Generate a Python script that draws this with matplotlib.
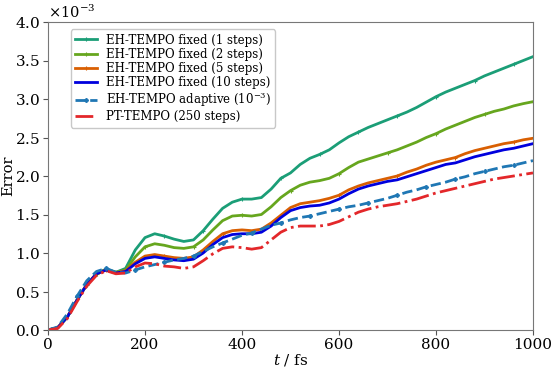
import numpy as np
import matplotlib
matplotlib.use("Agg")
import matplotlib.pyplot as plt
from matplotlib.ticker import ScalarFormatter

plt.rcParams['font.family'] = ['DejaVu Serif']
plt.rcParams['mathtext.fontset'] = 'dejavuserif'

t = list(range(0, 1001, 20))

# values in units of 1e-3
fixed1 = [0, 0.03, 0.17, 0.39, 0.59, 0.73, 0.79, 0.75, 0.80, 1.04, 1.20, 1.25, 1.22, 1.18, 1.15, 1.17,
          1.29, 1.44, 1.58, 1.66, 1.70, 1.70, 1.72, 1.83, 1.97, 2.04, 2.15, 2.23, 2.28, 2.34, 2.43,
          2.51, 2.57, 2.63, 2.68, 2.73, 2.78, 2.83, 2.89, 2.96, 3.03, 3.09, 3.14, 3.19, 3.24, 3.30,
          3.35, 3.40, 3.45, 3.50, 3.55]
fixed2 = [0, 0.03, 0.17, 0.39, 0.59, 0.73, 0.79, 0.75, 0.78, 0.95, 1.08, 1.12, 1.10, 1.07, 1.06, 1.08,
          1.17, 1.30, 1.42, 1.48, 1.49, 1.48, 1.50, 1.60, 1.72, 1.81, 1.88, 1.92, 1.94, 1.97, 2.03,
          2.11, 2.18, 2.22, 2.26, 2.30, 2.34, 2.39, 2.44, 2.50, 2.55, 2.61, 2.66, 2.71, 2.76, 2.80,
          2.84, 2.87, 2.91, 2.94, 2.965]
fixed5 = [0, 0.03, 0.17, 0.39, 0.59, 0.73, 0.78, 0.74, 0.77, 0.88, 0.96, 0.98, 0.96, 0.94, 0.93, 0.95,
          1.04, 1.15, 1.25, 1.29, 1.30, 1.29, 1.31, 1.39, 1.49, 1.59, 1.64, 1.66, 1.68, 1.71, 1.75,
          1.82, 1.87, 1.91, 1.94, 1.97, 2.00, 2.05, 2.09, 2.14, 2.18, 2.21, 2.24, 2.29, 2.33, 2.36,
          2.39, 2.42, 2.44, 2.47, 2.49]
fixed10 = [0, 0.03, 0.17, 0.39, 0.59, 0.73, 0.78, 0.74, 0.76, 0.86, 0.93, 0.95, 0.93, 0.91, 0.90, 0.92,
           1.00, 1.11, 1.20, 1.24, 1.25, 1.25, 1.27, 1.35, 1.46, 1.55, 1.59, 1.61, 1.62, 1.65, 1.70,
           1.77, 1.83, 1.87, 1.90, 1.93, 1.95, 1.99, 2.03, 2.07, 2.11, 2.15, 2.17, 2.21, 2.25, 2.28,
           2.31, 2.34, 2.36, 2.39, 2.42]
adaptive = [0, 0.04, 0.21, 0.44, 0.64, 0.76, 0.80, 0.75, 0.74, 0.78, 0.82, 0.85, 0.88, 0.91, 0.93, 0.96,
            1.02, 1.08, 1.13, 1.18, 1.23, 1.26, 1.31, 1.36, 1.39, 1.43, 1.46, 1.48, 1.51, 1.54, 1.57,
            1.60, 1.62, 1.65, 1.68, 1.71, 1.75, 1.79, 1.82, 1.86, 1.89, 1.92, 1.96, 1.99, 2.03, 2.06,
            2.09, 2.12, 2.14, 2.17, 2.20]
pt_tempo = [0, 0.02, 0.15, 0.37, 0.57, 0.71, 0.77, 0.73, 0.74, 0.82, 0.87, 0.86, 0.83, 0.82, 0.80, 0.82,
            0.90, 0.99, 1.06, 1.08, 1.07, 1.05, 1.07, 1.17, 1.27, 1.33, 1.35, 1.35, 1.35, 1.37, 1.41,
            1.47, 1.53, 1.57, 1.60, 1.62, 1.64, 1.67, 1.70, 1.74, 1.78, 1.81, 1.84, 1.87, 1.90, 1.93,
            1.96, 1.98, 2.00, 2.02, 2.04]

labels = ["EH-TEMPO fixed (1 steps)", "EH-TEMPO fixed (2 steps)", "EH-TEMPO fixed (5 steps)",
          "EH-TEMPO fixed (10 steps)", r"EH-TEMPO adaptive ($10^{-3}$)", "PT-TEMPO (250 steps)"]

fig = plt.figure(figsize=(5.55, 3.70), dpi=100)
ax = fig.add_axes([48/555, 40/370, 485/555, 308/370])

tt = np.array(t)
sc = 1e-3
mk = dict(marker='+', ms=3, mew=0.8)
ax.plot(tt, np.array(fixed1)*sc, color='#1b9e77', lw=2, markevery=4, label=labels[0], **mk)
ax.plot(tt, np.array(fixed2)*sc, color='#66a61e', lw=2, markevery=5, label=labels[1], **mk)
ax.plot(tt, np.array(fixed5)*sc, color='#d95f02', lw=2, markevery=6, label=labels[2], **mk)
ax.plot(tt, np.array(fixed10)*sc, color='#0000dd', lw=2, label=labels[3])
ax.plot(tt, np.array(adaptive)*sc, color='#1f77b4', lw=2, ls='--', marker='P', ms=2.5, markevery=3, label=labels[4])
ax.plot(tt, np.array(pt_tempo)*sc, color='#e3272a', lw=2, ls='-.', label=labels[5])

ax.set_xlim(0, 1000)
ax.set_ylim(0, 4e-3)
ax.set_xticks([0, 200, 400, 600, 800, 1000])
ax.set_yticks(np.arange(0, 4.01e-3, 0.5e-3))
fmt = ScalarFormatter(useMathText=True)
fmt.set_powerlimits((-2, 2))
ax.yaxis.set_major_formatter(fmt)
ax.tick_params(labelsize=11, direction='out', length=3.5, color='#555555', pad=2)
ax.yaxis.get_offset_text().set_fontsize(10.5)
for s in ax.spines.values():
    s.set_color('#777777')
ax.set_xlabel(r"$t$ / fs", fontsize=11, labelpad=0)
ax.set_ylabel("Error", fontsize=10.5)
ax.yaxis.set_label_coords(-0.067, 0.5)

leg = ax.legend(loc='upper left', fontsize=8.5, frameon=True, borderpad=0.35,
                handlelength=1.9, handletextpad=0.7, labelspacing=0.1,
                bbox_to_anchor=(0.035, 0.995))
leg.get_frame().set_edgecolor('#bbbbbb')

fig.savefig("out.png", dpi=100)
